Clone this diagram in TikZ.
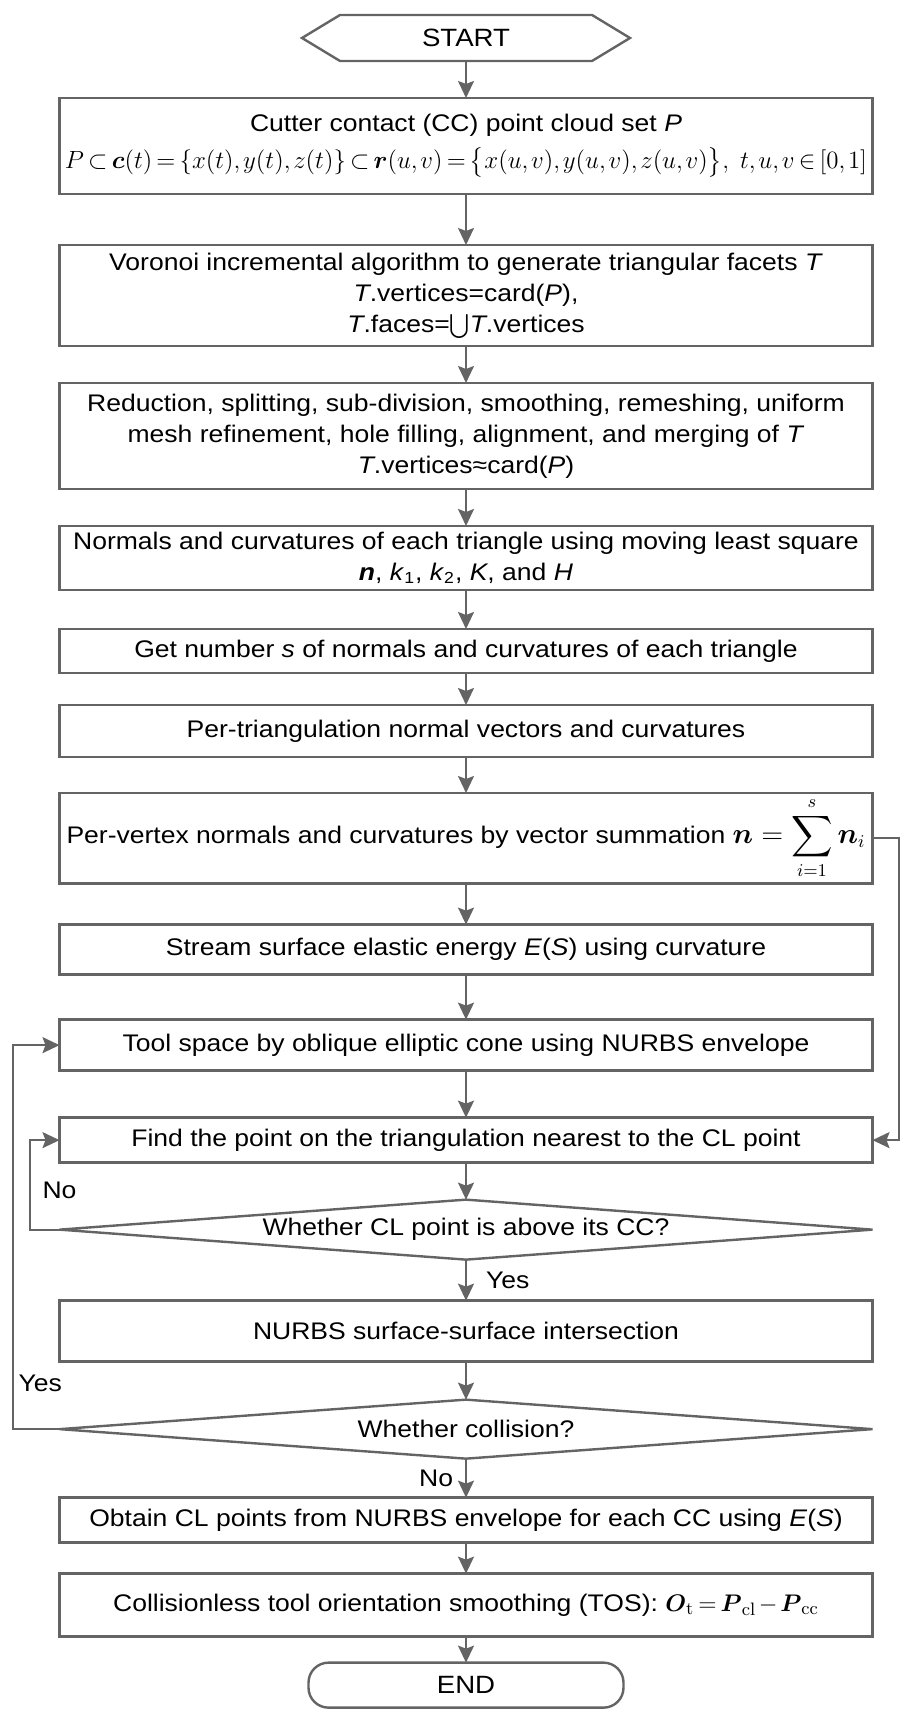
\documentclass[tikz,border=0pt]{standalone}
\usepackage{amsmath}
\usepackage[no-math]{fontspec}
\setmainfont{Liberation Sans}[FakeStretch=1.105]
\usetikzlibrary{positioning,arrows.meta,shapes.geometric}
\definecolor{linegray}{RGB}{100,100,100}
\tikzset{
x=0.5pt, y=-0.5pt,
flow/.style={-{Stealth[length=8.5pt,width=8pt,inset=1.5pt]}, draw=linegray, line width=1pt},
stepbox/.style={draw=linegray, line width=1.2pt, outer sep=0pt, minimum width=406.5pt, inner sep=2pt, align=center, font=\fontsize{12}{15.5}\selectfont},
decision/.style={diamond, aspect=13, draw=linegray, line width=1.2pt, outer sep=0pt, minimum width=406.5pt, inner sep=0pt, font=\fontsize{12}{15}\selectfont},
terminal/.style={draw=linegray, line width=1.2pt, outer sep=0pt, rounded corners=10pt, minimum width=157.5pt, minimum height=22.5pt, font=\fontsize{12.5}{15}\selectfont},
answer/.style={inner sep=0pt, font=\fontsize{12}{15}\selectfont},
}
\newcommand{\tightmath}{\thickmuskip=3mu plus 1mu\medmuskip=2mu\thinmuskip=2mu}

\begin{document}
\begin{tikzpicture}
    \useasboundingbox (0,0) rectangle (914,1716);

    \node[minimum width=164pt, minimum height=23pt, outer sep=0pt, font=\fontsize{12.5}{15}\selectfont] (start) at (466,38) {START};
    \draw[linegray, line width=1.2pt] (start.west) -- ([xshift=19pt]start.north west) -- ([xshift=-19pt]start.north east)
        -- (start.east) -- ([xshift=-19pt]start.south east) -- ([xshift=19pt]start.south west) -- cycle;

    \node[stepbox, minimum height=48pt, below=18.5pt of start] (cloud) {Cutter contact (CC) point cloud set \textit{P}\\[3pt]
        \resizebox{401pt}{!}{\fontsize{13}{15}\selectfont\tightmath $P\subset\boldsymbol{c}(t)=\{x(t),y(t),z(t)\}\subset\boldsymbol{r}(u,v)=\bigl\{x(u,v),y(u,v),z(u,v)\bigr\},\ t,u,v\in[0,1]$}};
    \node[stepbox, minimum height=50.5pt, below=25.5pt of cloud] (voronoi) {Voronoi incremental algorithm to generate triangular facets \textit{T}\\
        \textit{T}.vertices=card(\textit{P}),\\ \textit{T}.faces=$\bigcup$\textit{T}.vertices};
    \node[stepbox, minimum height=53pt, below=18.5pt of voronoi] (mesh) {Reduction, splitting, sub-division, smoothing, remeshing, uniform\\
        mesh refinement, hole filling, alignment, and merging of \textit{T}\\ \textit{T}.vertices≈card(\textit{P})};
    \node[stepbox, minimum height=32pt, below=18.5pt of mesh] (normals) {Normals and curvatures of each triangle using moving least square\\
        \textbf{\textit{n}}, \textit{k}\textsubscript{1}, \textit{k}\textsubscript{2}, \textit{K}, and \textit{H}};
    \node[stepbox, minimum height=22pt, below=19.5pt of normals] (number) {Get number \textit{s} of normals and curvatures of each triangle};
    \node[stepbox, minimum height=26pt, below=16pt of number] (pertri) {Per-triangulation normal vectors and curvatures};
    \node[stepbox, minimum height=41.5pt, below=18pt of pertri] (pervert) {Per-vertex normals and curvatures by vector summation
        {\fontsize{13.5}{16}\selectfont$\displaystyle\boldsymbol{n}=\sum_{i=1}^{s}\boldsymbol{n}_i$}};
    \node[stepbox, minimum height=25pt, below=20.5pt of pervert] (energy) {Stream surface elastic energy \textit{E}(\textit{S}) using curvature};
    \node[stepbox, minimum height=25.5pt, below=22.5pt of energy] (space) {Tool space by oblique elliptic cone using NURBS envelope};
    \node[stepbox, minimum height=22.5pt, below=23.5pt of space] (nearest) {Find the point on the triangulation nearest to the CL point};
    \node[decision, minimum height=30pt, below=18.5pt of nearest] (above) {Whether CL point is above its CC?};
    \node[stepbox, minimum height=30.5pt, below=20.5pt of above] (ssi) {NURBS surface-surface intersection};
    \node[decision, minimum height=29.5pt, below=19pt of ssi] (collide) {Whether collision?};
    \node[stepbox, minimum height=22.5pt, below=19.5pt of collide] (clpts) {Obtain CL points from NURBS envelope for each CC using \textit{E}(\textit{S})};
    \node[stepbox, minimum height=31.5pt, below=15.5pt of clpts] (tos) {Collisionless tool orientation smoothing (TOS):
        {\fontsize{13}{15}\selectfont\tightmath$\boldsymbol{O}_{\mathrm{t}}=\boldsymbol{P}_{\mathrm{cl}}-\boldsymbol{P}_{\mathrm{cc}}$}};
    \node[terminal, below=13pt of tos] (end) {END};

    % main flow
    \draw[flow] (start) -- (cloud);
    \draw[flow] (cloud) -- (voronoi);
    \draw[flow] (voronoi) -- (mesh);
    \draw[flow] (mesh) -- (normals);
    \draw[flow] (normals) -- (number);
    \draw[flow] (number) -- (pertri);
    \draw[flow] (pertri) -- (pervert);
    \draw[flow] (pervert) -- (energy);
    \draw[flow] (energy) -- (space);
    \draw[flow] (space) -- (nearest);
    \draw[flow] (nearest) -- (above);
    \draw[flow] (above) -- node[answer, right, xshift=9.5pt] {Yes} (ssi);
    \draw[flow] (ssi) -- (collide);
    \draw[flow] (collide) -- node[answer, left, xshift=-6pt] {No} (clpts);
    \draw[flow] (clpts) -- (tos);
    \draw[flow] (tos) -- (end);

    % feedback loops
    \draw[flow] (pervert.east) -- ++(26,0) |- (nearest.east);
    \draw[flow] (above.west) -- ++(-30,0) |- node[answer, right, pos=0.22, xshift=6pt] {No} (nearest.west);
    \draw[flow] (collide.west) -- ++(-47,0) |- node[answer, right, pos=0.06, xshift=2.5pt] {Yes} (space.west);

\end{tikzpicture}
\end{document}
